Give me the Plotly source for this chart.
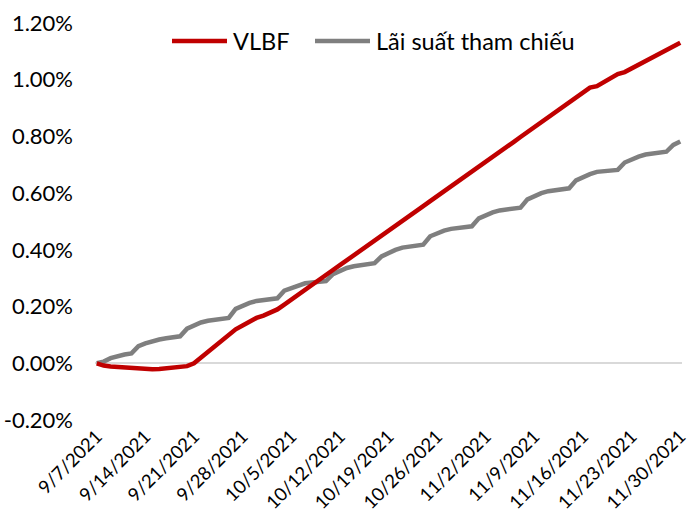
import plotly.graph_objects as go
import pandas as pd

start_date = "2021-09-07"
n_days = 85
dates = pd.date_range(start_date, periods=n_days, freq="D")

vlbf = [
    0.000, -0.008, -0.011, -0.013, -0.015, -0.017, -0.019, -0.020, -0.021, -0.020,
    -0.018, -0.016, -0.014, -0.010, 0.000, 0.020, 0.040, 0.060, 0.082, 0.105,
    0.120, 0.133, 0.146, 0.160, 0.168, 0.178, 0.190, 0.207, 0.225, 0.242,
    0.259, 0.277, 0.294, 0.311, 0.329, 0.346, 0.363, 0.381, 0.398, 0.415,
    0.433, 0.450, 0.468, 0.485, 0.502, 0.520, 0.537, 0.554, 0.572, 0.589,
    0.607, 0.624, 0.641, 0.659, 0.676, 0.693, 0.711, 0.728, 0.745, 0.763,
    0.780, 0.798, 0.815, 0.832, 0.850, 0.867, 0.884, 0.902, 0.919, 0.936,
    0.954, 0.972, 0.977, 0.991, 1.005, 1.020, 1.027, 1.040, 1.053, 1.066,
    1.078, 1.091, 1.104, 1.117, 1.130,
]

reference_rate = [
    0.000, 0.006, 0.018, 0.026, 0.031, 0.035, 0.060, 0.070, 0.078, 0.084,
    0.088, 0.092, 0.095, 0.122, 0.135, 0.144, 0.150, 0.154, 0.157, 0.160,
    0.192, 0.203, 0.213, 0.220, 0.224, 0.226, 0.229, 0.256, 0.266, 0.275,
    0.282, 0.285, 0.287, 0.290, 0.314, 0.326, 0.336, 0.342, 0.347, 0.350,
    0.353, 0.377, 0.389, 0.400, 0.408, 0.412, 0.415, 0.418, 0.448, 0.459,
    0.468, 0.474, 0.478, 0.481, 0.483, 0.511, 0.522, 0.532, 0.539, 0.543,
    0.546, 0.549, 0.578, 0.590, 0.600, 0.607, 0.611, 0.614, 0.617, 0.645,
    0.657, 0.667, 0.675, 0.678, 0.680, 0.682, 0.708, 0.719, 0.729, 0.736,
    0.740, 0.743, 0.746, 0.770, 0.782,
]

series_names = ["VLBF", "Lãi suất tham chiếu"]
series_colors = ["#C00000", "#7F7F7F"]

x_tick_dates = pd.date_range(start_date, "2021-11-30", freq="7D")
x_tick_labels = [f"{d.month}/{d.day}/{d.year}" for d in x_tick_dates]
y_tick_vals = [-0.2, 0.0, 0.2, 0.4, 0.6, 0.8, 1.0, 1.2]
y_tick_labels = ["-0.20%", "0.00%", "0.20%", "0.40%", "0.60%", "0.80%", "1.00%", "1.20%"]

FONT = "Lato, 'Open Sans', sans-serif"
W, H = 691, 519
ml, mr, mt, mb = 95, 9, 23, 99

fig = go.Figure()
fig.add_trace(go.Scatter(x=dates, y=reference_rate, mode="lines", name=series_names[1],
                         line=dict(color=series_colors[1], width=4.5), showlegend=False))
fig.add_trace(go.Scatter(x=dates, y=vlbf, mode="lines", name=series_names[0],
                         line=dict(color=series_colors[0], width=4.5), showlegend=False))

fig.update_layout(
    width=W, height=H,
    margin=dict(l=ml, r=mr, t=mt, b=mb, autoexpand=False),
    paper_bgcolor="white", plot_bgcolor="white",
    font=dict(family=FONT, size=19, color="#000000"),
    showlegend=False,
)
fig.update_xaxes(
    range=["2021-09-06 18:00", "2021-11-30 06:00"],
    tickvals=list(x_tick_dates), ticktext=x_tick_labels,
    tickangle=-45, tickfont=dict(size=18.5), showgrid=False, zeroline=False,
    showline=False, ticks="", ticklabelstandoff=1, automargin=False,
    ticklabeloverflow="allow",
)
fig.update_yaxes(
    range=[-0.2, 1.2], tickvals=y_tick_vals, ticktext=y_tick_labels,
    showgrid=False, zeroline=True, zerolinecolor="#D9D9D9", zerolinewidth=1.5,
    showline=False, ticks="", ticklabelstandoff=21, tickfont=dict(size=22),
    automargin=False, ticklabeloverflow="allow",
)

# custom legend (figure pixel coordinates)
pw = W - ml - mr
ph = H - mt - mb
def px(x):
    return (x - ml) / pw
def py(y):
    return 1 - (y - mt) / ph

leg_y = 41
items = [(172, 227, 231), (315, 370, 374)]
for (x0, x1, tx), name, col in zip(items, series_names, series_colors):
    fig.add_shape(type="line", xref="paper", yref="paper", x0=px(x0), x1=px(x1),
                  y0=py(leg_y), y1=py(leg_y), line=dict(color=col, width=4.5))
    fig.add_annotation(xref="paper", yref="paper", x=px(tx), y=py(leg_y), text=name,
                       showarrow=False, xanchor="left", yanchor="middle",
                       font=dict(size=23.5, color="#000000", family=FONT))

fig.write_html("out.html", config={"displayModeBar": False},
               post_script="document.body.style.margin='0';")
